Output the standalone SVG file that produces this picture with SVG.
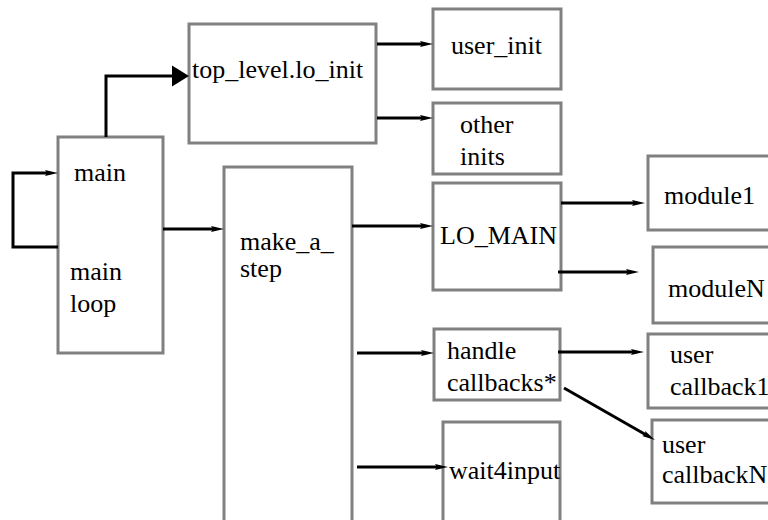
<svg xmlns="http://www.w3.org/2000/svg" width="768" height="520" viewBox="0 0 768 520">
<style>
.box{fill:#fff;stroke:#808080;stroke-width:3}
.c{fill:none;stroke:#000;stroke-width:3}
text{font-family:"Times New Roman","Liberation Serif","DejaVu Serif",Times,serif;font-size:26px;fill:#000}
</style>
<defs>
<marker id="a" markerUnits="userSpaceOnUse" markerWidth="14" markerHeight="8" refX="5" refY="3" orient="auto" overflow="visible">
<path d="M0,0 L13,3 L0,6 L2,3 z" fill="#000"/>
</marker>
<marker id="big" markerUnits="userSpaceOnUse" markerWidth="18" markerHeight="22" refX="9" refY="10.5" orient="auto" overflow="visible">
<path d="M0,0 L17,10.5 L0,21 z" fill="#000"/>
</marker>
</defs>
<rect width="768" height="520" fill="#fff"/>
<g id="top_level">
<rect class="box" x="189" y="24" width="187" height="119"/>
<text x="192" y="78">top_level.lo_init</text>
</g>
<g id="user_init">
<rect class="box" x="433" y="9" width="128" height="80"/>
<text x="451" y="54">user_init</text>
</g>
<g id="other_inits">
<rect class="box" x="433" y="103" width="128" height="71"/>
<text x="460" y="133">other</text>
<text x="460" y="165">inits</text>
</g>
<g id="main">
<rect class="box" x="58" y="137" width="105" height="216"/>
<text x="74" y="181">main</text>
<text x="70" y="280">main</text>
<text x="70" y="312">loop</text>
</g>
<g id="make_a_step">
<rect class="box" x="224" y="167" width="128" height="370"/>
<text x="240" y="250">make_a_</text>
<text x="240" y="277">step</text>
</g>
<g id="lo_main">
<rect class="box" x="433" y="183" width="128" height="107"/>
<text x="440" y="244">LO_MAIN</text>
</g>
<g id="module1">
<rect class="box" x="648" y="156" width="130" height="74"/>
<text x="664" y="204">module1</text>
</g>
<g id="moduleN">
<rect class="box" x="653" y="247" width="125" height="76"/>
<text x="668" y="297">moduleN</text>
</g>
<g id="handle_callbacks">
<rect class="box" x="434" y="329" width="126" height="71"/>
<text x="447" y="359">handle</text>
<text x="447" y="391">callbacks*</text>
</g>
<g id="wait4input">
<rect class="box" x="443" y="422" width="117" height="120"/>
<text x="449" y="479">wait4input</text>
</g>
<g id="user_callback1">
<rect class="box" x="648" y="334" width="130" height="74"/>
<text x="670" y="363">user</text>
<text x="670" y="395">callback1</text>
</g>
<g id="user_callbackN">
<rect class="box" x="652" y="420" width="126" height="83"/>
<text x="662" y="453">user</text>
<text x="662" y="483">callbackN</text>
</g>
<g id="connectors">
<path class="c" d="M106,137 V76 H181" marker-end="url(#big)"/>
<path class="c" d="M377,44 H425" marker-end="url(#a)"/>
<path class="c" d="M377,118 H425" marker-end="url(#a)"/>
<path class="c" d="M58,247 H13 V173 H50" marker-end="url(#a)"/>
<path class="c" d="M163,229 H216" marker-end="url(#a)"/>
<path class="c" d="M352,226 H425" marker-end="url(#a)"/>
<path class="c" d="M561,203 H637" marker-end="url(#a)"/>
<path class="c" d="M558,272 H631" marker-end="url(#a)"/>
<path class="c" d="M357,353 H426" marker-end="url(#a)"/>
<path class="c" d="M558,352 H636" marker-end="url(#a)"/>
<path class="c" d="M564,388 L648,436" marker-end="url(#a)"/>
<path class="c" d="M357,467 H440" marker-end="url(#a)"/>
</g>
</svg>
